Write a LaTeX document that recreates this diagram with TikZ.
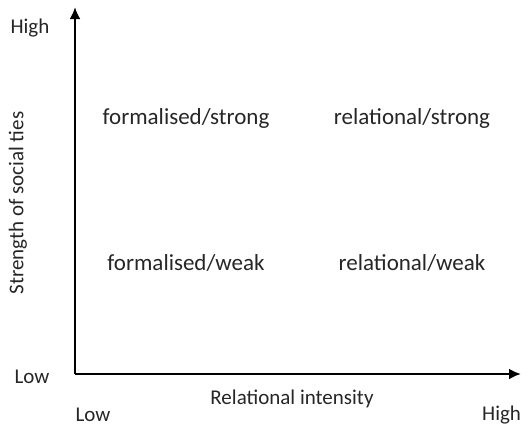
\documentclass[tikz,border=0pt]{standalone}
\usepackage{fontspec}
\setmainfont{Carlito}
\usetikzlibrary{arrows.meta}
\tikzset{axis/.style={line width=2.8pt,-{Latex[length=12pt,width=11pt]}},lbl/.style={inner sep=0pt,text=black!85,font=\fontsize{23}{26}\selectfont},tick/.style={inner sep=0pt,text=black!85,font=\fontsize{21}{24}\selectfont}}
\begin{document}
\begin{tikzpicture}[x=1pt,y=-1pt]
\useasboundingbox (0,0) rectangle (529,426);
\coordinate (o) at (75,374);
\coordinate (ytop) at (75,7);
\coordinate (xend) at (521,374);
\draw[axis] (o) -- (ytop);
\draw[axis] (o) -- (xend);
\node[tick] (yhigh) at (30,28) {High};
\node[tick] (ylow) at (32,377) {Low};
\node[tick] (xlow) at (93,415) {Low};
\node[tick,anchor=west] (xhigh) at (482,415) {High};
\node[tick] (xlab) at (292,399) {Relational intensity};
\node[tick,rotate=90] (ylab) at (18,203) {Strength of social ties};
\node[lbl] (fs) at (186,118) {formalised/strong};
\node[lbl] (rs) at (412,118) {relational/strong};
\node[lbl] (fw) at (186,263) {formalised/weak};
\node[lbl] (rw) at (412,263) {relational/weak};
\end{tikzpicture}
\end{document}
